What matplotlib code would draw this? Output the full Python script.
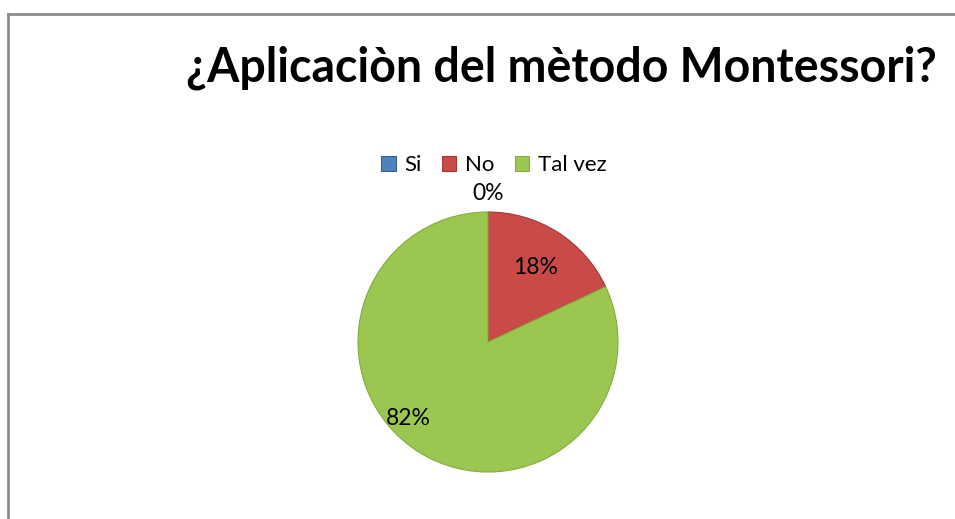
import matplotlib.pyplot as plt
from matplotlib.lines import Line2D
import numpy as np

# datos de la encuesta
etiquetas = ['Si', 'No', 'Tal vez']
valores = [0, 18, 82]
colores = ['#4F81BD', '#C94A46', '#9BC650']
bordes = ['#3A6296', '#A33A37', '#84AC3E']

plt.rcParams['font.family'] = ['Lato', 'DejaVu Sans']

W, H = 955, 519
fig = plt.figure(figsize=(W / 100, H / 100), dpi=100)
fig.patch.set_facecolor('white')

# marco gris del grafico (recortado abajo y a la derecha)
fig.add_artist(Line2D([8 / W, 8 / W], [-0.05, 1 - 14 / H], transform=fig.transFigure,
                      color='#8C8C8C', lw=2))
fig.add_artist(Line2D([8 / W, 1.05], [1 - 14 / H, 1 - 14 / H], transform=fig.transFigure,
                      color='#8C8C8C', lw=2))

# ejes cuadrados alrededor del pastel
R = 130.0
cx, cy = 488, H - 342
half = 150
ax = fig.add_axes([(cx - half) / W, (cy - half) / H, 2 * half / W, 2 * half / H])
lim = half / R

wedges, _ = ax.pie(valores, colors=colores, startangle=90, counterclock=False,
                   radius=1.0, wedgeprops=dict(linewidth=0.8))
for w, e in zip(wedges, bordes):
    w.set_edgecolor(e)

ax.set_xlim(-lim, lim)
ax.set_ylim(-lim, lim)
ax.set_aspect('equal')
ax.axis('off')

# etiquetas de porcentaje (estilo Excel)
total = float(sum(valores))
dist = [1.14, 0.68, 0.85]
desv = [0, 0, -14]
ang = 90.0
for w, v, d, o in zip(wedges, valores, dist, desv):
    span = 360.0 * v / total
    mid = np.deg2rad(ang - span / 2 + o)
    ang -= span
    ax.text(d * np.cos(mid), d * np.sin(mid), '%d%%' % v, ha='center', va='center',
            fontsize=16.5, color='black')

fig.text(561 / W, 1 - 68 / H, '¿Aplicaciòn del mètodo Montessori?', ha='center',
         va='center', fontsize=33.5, fontweight='bold')

fig.legend(wedges, etiquetas, loc='center', bbox_to_anchor=(494 / W, 1 - 165 / H), ncol=3,
           frameon=False, fontsize=16, handlelength=0.65, handleheight=0.65,
           handletextpad=0.4, columnspacing=0.9)

fig.savefig('out.png', dpi=100)
